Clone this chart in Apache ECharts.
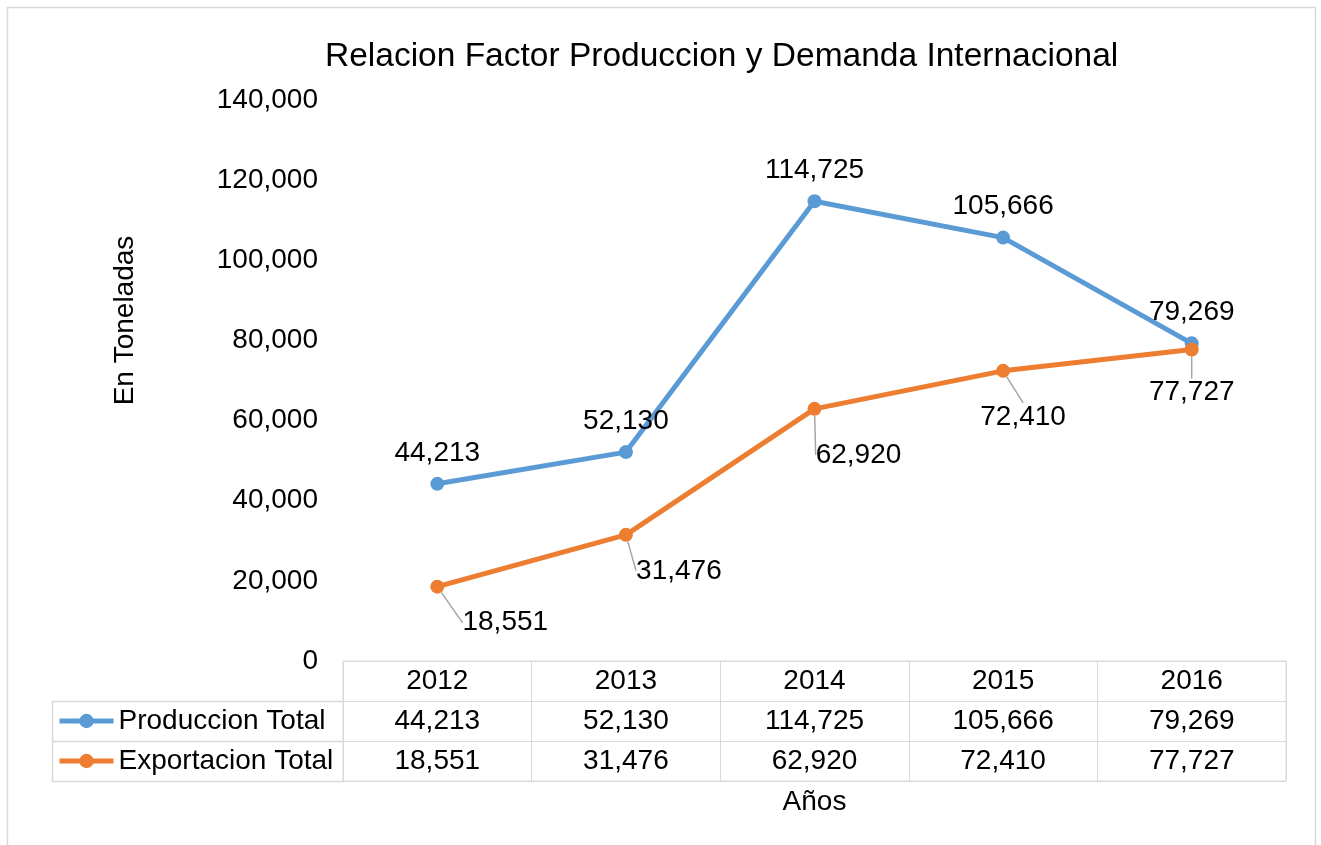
<!DOCTYPE html>
<html>
<head>
<meta charset="utf-8">
<script src="https://cdn.jsdelivr.net/npm/echarts@6/dist/echarts.min.js"></script>
<style>
  html, body { margin: 0; padding: 0; background: #fff; }
  #chart { width: 1321px; height: 845px; }
</style>
</head>
<body>
<div id="chart"></div>
<script>
const years = ['2012', '2013', '2014', '2015', '2016']
const produccion = [44213, 52130, 114725, 105666, 79269]
const exportacion = [18551, 31476, 62920, 72410, 77727]
const yTicks = { min: 0, max: 140000, interval: 20000 }

// where Excel pushed the export labels (px from the default "bottom" spot)
const expDx = [68, 53, 44, 20, 0]
const expDy = [10, 10, 20, 20, 17]

const fmt = v => String(v).replace(/\B(?=(\d{3})+(?!\d))/g, ',')
const font = 'Liberation Sans, Arial, sans-serif'
const fs = 28
const blue = '#5B9BD5'
const orange = '#ED7D31'
const border = '#d9d9d9'

// table cells built from the same arrays
let cells = []
years.forEach((y, i) => {
  cells.push([i, 0, y])
  cells.push([i, 1, fmt(produccion[i])])
  cells.push([i, 2, fmt(exportacion[i])])
})

const chart = echarts.init(document.getElementById('chart'))

const legendBase = {
  left: 57, padding: 0, itemWidth: 54, itemHeight: 18, itemGap: 0,
  lineStyle: { width: 5 },
  textStyle: { fontSize: fs, color: '#000', fontFamily: font }
}

const option = {
  animation: false,
  textStyle: { fontFamily: font, color: '#000' },
  title: {
    text: 'Relacion Factor Produccion y Demanda Internacional',
    left: 320, top: 35,
    textStyle: { fontFamily: font, fontSize: 33.5, fontWeight: 'normal', color: '#000' }
  },
  legend: [
    Object.assign({ data: ['Produccion Total'], top: 707 }, legendBase),
    Object.assign({ data: ['Exportacion Total'], top: 747 }, legendBase)
  ],
  grid: [
    { left: 343, right: 35, top: 100, height: 561 },
    { left: 343, right: 35, top: 661, height: 120, show: true, borderColor: border, borderWidth: 1 }
  ],
  xAxis: [
    {
      type: 'category', data: years, gridIndex: 0, boundaryGap: true,
      axisLine: { show: false }, axisTick: { show: false }, axisLabel: { show: false }
    },
    {
      type: 'category', data: years, gridIndex: 1, boundaryGap: true,
      axisLine: { show: false }, axisTick: { show: false }, axisLabel: { show: false },
      splitLine: { show: true, lineStyle: { color: border, width: 1 } },
      name: 'Años', nameLocation: 'middle', nameGap: 7,
      nameTextStyle: { fontSize: fs, color: '#000', fontFamily: font }
    }
  ],
  yAxis: [
    {
      type: 'value', gridIndex: 0,
      min: yTicks.min, max: yTicks.max, interval: yTicks.interval,
      axisLine: { show: false }, axisTick: { show: false },
      splitLine: { show: false },
      axisLabel: { formatter: v => fmt(v), fontSize: fs, color: '#000', margin: 25 },
      name: 'En Toneladas', nameLocation: 'middle', nameRotate: 90, nameGap: 204,
      nameTextStyle: { fontSize: fs, color: '#000', fontFamily: font, padding: [0, 0, 0, 120] }
    },
    {
      type: 'category', gridIndex: 1, data: ['h', 'p', 'e'], inverse: true,
      axisLine: { show: false }, axisTick: { show: false }, axisLabel: { show: false },
      splitLine: { show: true, lineStyle: { color: border, width: 1 } }
    }
  ],
  series: [
    {
      name: 'Produccion Total', type: 'line', data: produccion,
      xAxisIndex: 0, yAxisIndex: 0,
      symbol: 'circle', symbolSize: 14,
      lineStyle: { width: 5, color: blue },
      itemStyle: { color: blue },
      label: { show: true, position: 'top', distance: 10, fontSize: fs, color: '#000', formatter: p => fmt(p.value) }
    },
    {
      name: 'Exportacion Total', type: 'line', data: exportacion,
      xAxisIndex: 0, yAxisIndex: 0,
      symbol: 'circle', symbolSize: 14,
      lineStyle: { width: 5, color: orange },
      itemStyle: { color: orange },
      label: { show: true, position: 'bottom', distance: 5, fontSize: fs, color: '#000', formatter: p => fmt(p.value) },
      labelLine: { show: true, lineStyle: { color: '#a6a6a6', width: 1.5 } },
      labelLayout: p => ({ dx: expDx[p.dataIndex], dy: expDy[p.dataIndex] })
    },
    {
      name: 'tabla', type: 'scatter', data: cells,
      xAxisIndex: 1, yAxisIndex: 1, silent: true,
      symbolSize: 1, itemStyle: { color: 'rgba(0,0,0,0)', opacity: 1 },
      label: { show: true, position: 'inside', fontSize: fs, color: '#000', opacity: 1, formatter: p => p.value[2] }
    }
  ],
  graphic: [
    {
      type: 'rect', silent: true,
      shape: { x: 7.5, y: 7.5, width: 1308, height: 900 },
      style: { fill: 'none', stroke: border, lineWidth: 1.5 }
    },
    {
      type: 'polyline', silent: true,
      shape: { points: [[343, 701.5], [52.5, 701.5], [52.5, 781.5], [343, 781.5]] },
      style: { fill: 'none', stroke: border, lineWidth: 1.5 }
    },
    {
      type: 'line', silent: true,
      shape: { x1: 52.5, y1: 741.5, x2: 343, y2: 741.5 },
      style: { stroke: border, lineWidth: 1.5 }
    }
  ]
}

chart.setOption(option)
</script>
</body>
</html>
